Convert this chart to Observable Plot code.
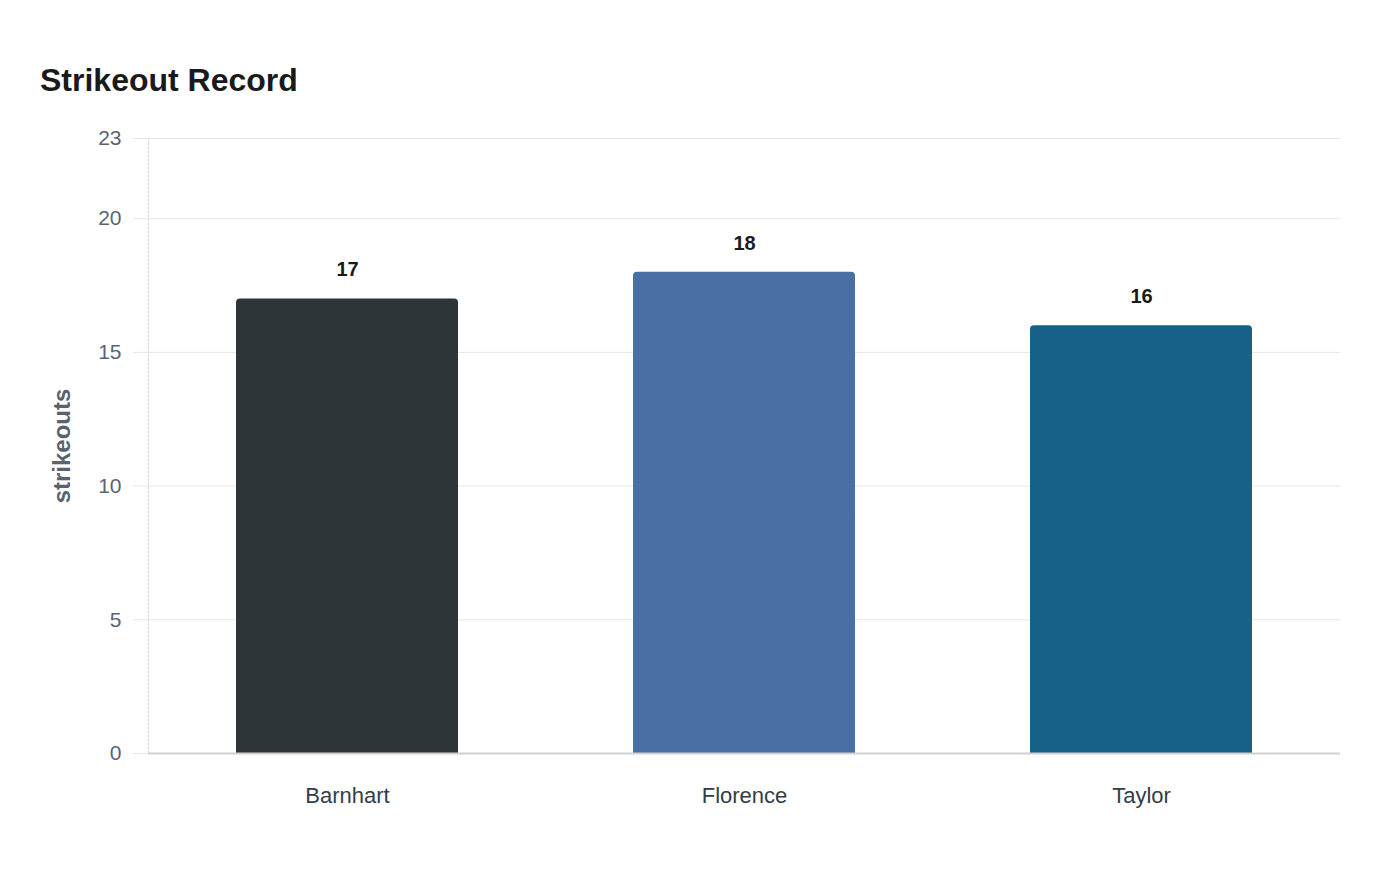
<!DOCTYPE html>
<html><head><meta charset="utf-8">
<script src="https://cdn.jsdelivr.net/npm/d3@7"></script>
<script src="https://cdn.jsdelivr.net/npm/@observablehq/plot@0.6"></script>
<style>
body{margin:0;background:#fff;font-family:"Liberation Sans",Arial,sans-serif;}
#title{height:120px;box-sizing:border-box;padding:64px 0 0 40px;font-size:32px;font-weight:bold;color:#1a1a1a;line-height:32px;}
</style></head><body>
<div id="title">Strikeout Record</div>
<div id="chart"></div>
<script>
const pitchers = ["Barnhart", "Florence", "Taylor"];
const strikeouts = [17, 18, 16];
const barColors = ["#2d3538", "#4a6fa5", "#176087"];
const yTicks = [0, 5, 10, 15, 20, 23];
const yLabel = "strikeouts";

const data = pitchers.map((p, i) => ({pitcher: p, k: strikeouts[i]}));

const chart = Plot.plot({
  width: 1400,
  height: 760,
  marginTop: 18,
  marginBottom: 127,
  marginLeft: 148,
  marginRight: 60,
  style: {fontFamily: "'Liberation Sans', Arial, sans-serif", background: "#fff"},
  x: {domain: pitchers, paddingInner: 0.44, paddingOuter: 0.22},
  y: {domain: [0, 23]},
  color: {domain: pitchers, range: barColors},
  marks: [
    Plot.gridY(yTicks, {stroke: "#e6e6e6", strokeOpacity: 1, strokeWidth: 1}),
    Plot.axisY(yTicks, {tickSize: 15, tickPadding: 12, stroke: "#e6e6e6", strokeOpacity: 1, fill: "#5a6472", fontSize: 21, label: null}),
    Plot.frame({anchor: "left", stroke: "#d6d6d6", strokeDasharray: "2,2"}),
    Plot.barY(data, {x: "pitcher", y: "k", fill: "pitcher", rx: 4}),
    Plot.barY(data, {x: "pitcher", y: d => d.k / 2, fill: "pitcher"}),
    Plot.ruleY([0], {stroke: "#d0d0d0", strokeWidth: 2}),
    Plot.text(data, {x: "pitcher", y: "k", text: d => String(d.k), dy: -29, fontSize: 20, fontWeight: "bold", fill: "#1a1a1a", lineAnchor: "middle"}),
    Plot.axisX({tickSize: 0, tickPadding: 34, fontSize: 22, fill: "#333d47", label: null}),
    Plot.text([yLabel], {frameAnchor: "left", dx: -86, rotate: -90, fontSize: 24, fontWeight: "bold", fill: "#5a6270", textAnchor: "middle", lineAnchor: "middle"})
  ]
});
document.getElementById("chart").appendChild(chart);
</script>
</body></html>
